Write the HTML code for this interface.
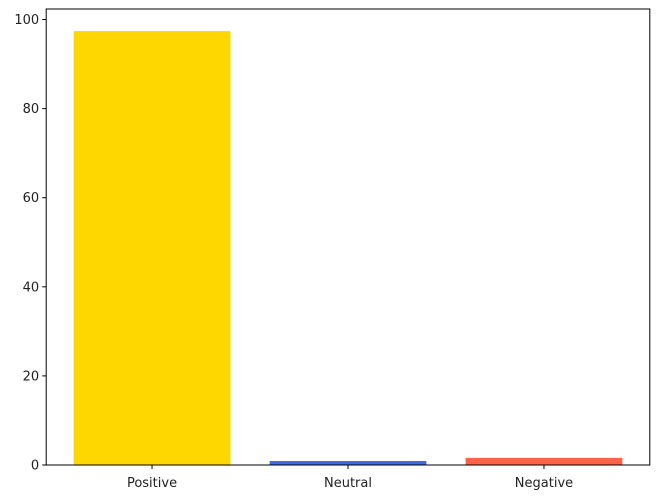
<!DOCTYPE html>
<html><head><meta charset="utf-8"><style>
body{margin:0;background:#fff;}
svg text{font-family:"DejaVu Sans","Liberation Sans",sans-serif;font-size:13px;fill:#222;}
</style></head><body>
<svg id="chart" width="660" height="499"></svg>
<script>
const categories = ["Positive","Neutral","Negative"];
const values = [97.4, 0.9, 1.6];
const colors = ["#FFD700","#4169E1","#FF6347"];
const yTicks = [0,20,40,60,80,100];

const L=46.2,R=649.8,T=9,B=465;
const xMin=-0.54,xMax=2.54;
const y0=465, pxPerUnit=4.455;
const xs=v=>L+(v-xMin)/(xMax-xMin)*(R-L);
const ys=v=>y0-v*pxPerUnit;
const svg=document.getElementById('chart');
const NS='http://www.w3.org/2000/svg';
function mk(tag,attrs){const e=document.createElementNS(NS,tag);for(const k in attrs)e.setAttribute(k,attrs[k]);svg.appendChild(e);return e;}

categories.forEach((c,i)=>{
  const x0=xs(i-0.4),x1=xs(i+0.4);
  const r=mk('rect',{x:x0,y:ys(values[i]),width:x1-x0,height:ys(0)-ys(values[i]),fill:colors[i]});
  
  
  const t=mk('line',{x1:xs(i),x2:xs(i),y1:B,y2:B+4,stroke:'#000','stroke-width':1});
  
  
  const lb=mk('text',{x:xs(i),y:B+22,'text-anchor':'middle'});
  lb.textContent=c;
  
  
});
yTicks.forEach(v=>{
  const t=mk('line',{x1:L-4,x2:L,y1:ys(v),y2:ys(v),stroke:'#000','stroke-width':1});
  
  
  const lb=mk('text',{x:L-7,y:ys(v)+4.5,'text-anchor':'end'});
  lb.textContent=v;
  
  
});
const f=mk('rect',{x:L,y:T,width:R-L,height:B-T,fill:'none',stroke:'#000','stroke-width':1});


</script>
</body></html>
